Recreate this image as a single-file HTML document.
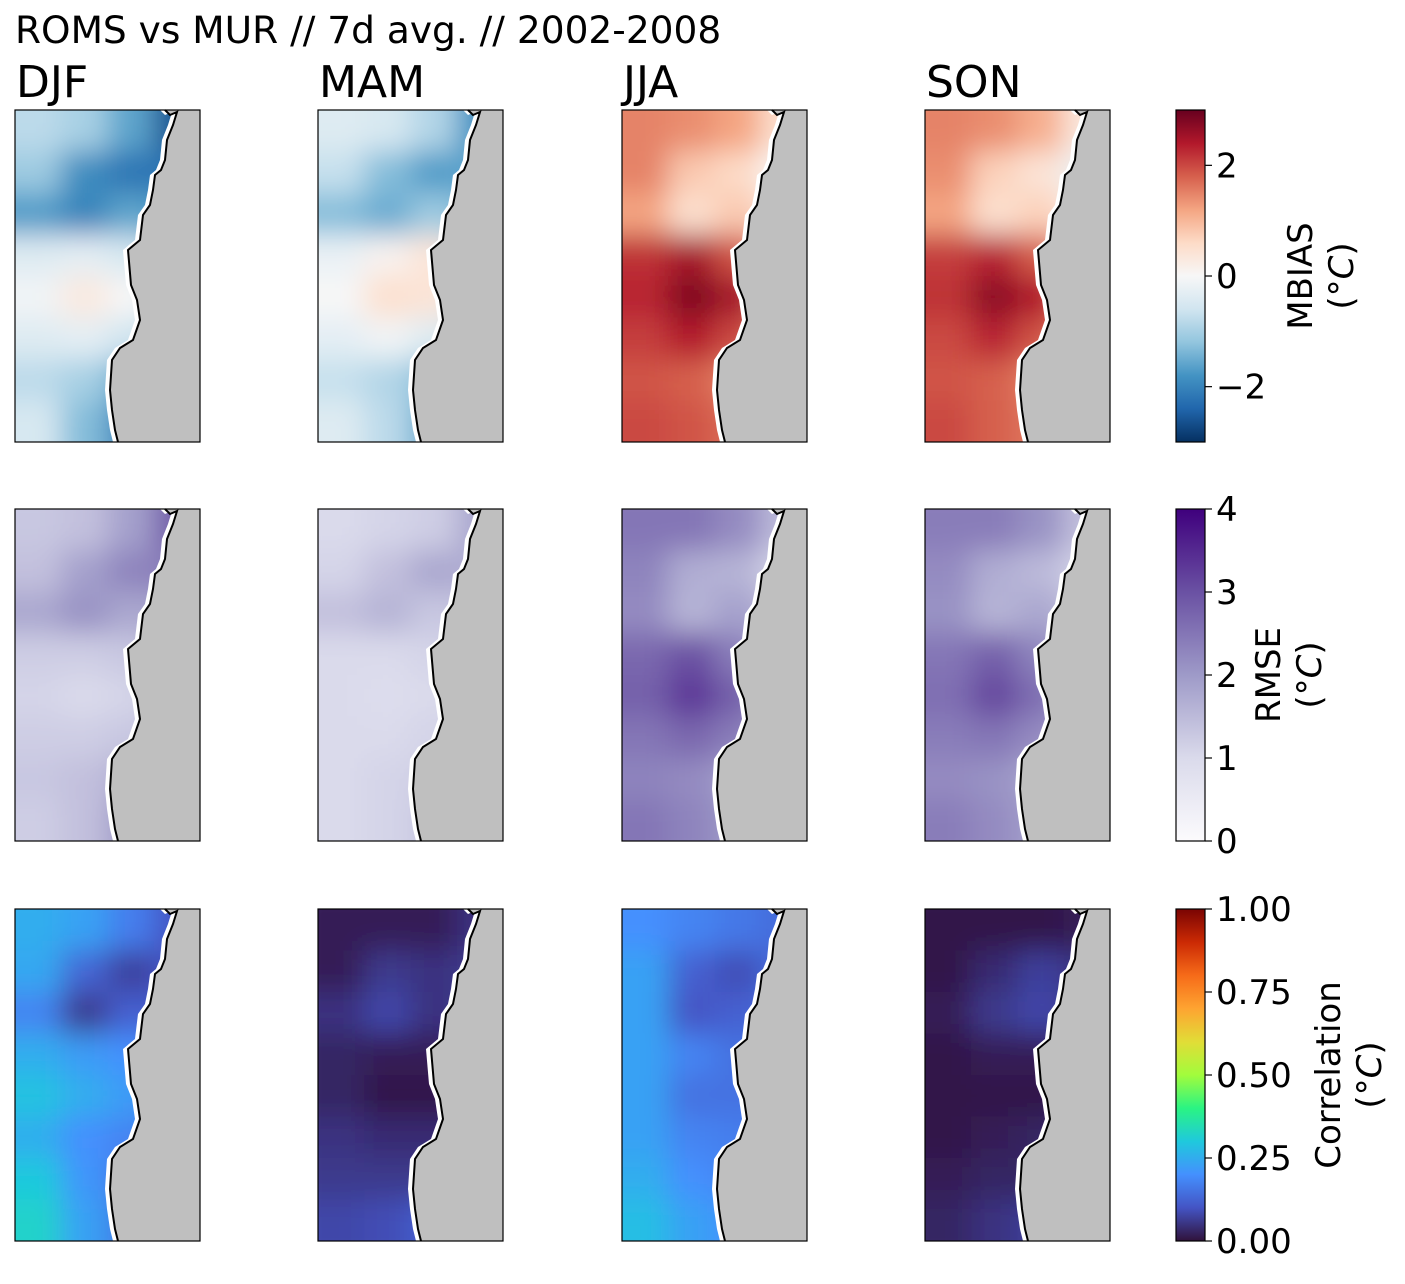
<!DOCTYPE html>
<html><head><meta charset="utf-8"><style>
body{margin:0;background:#fff;}
svg text{font-family:"DejaVu Sans","Liberation Sans",sans-serif;fill:#000;}
</style></head><body>
<svg id="fig" width="1405" height="1279" viewBox="0 0 1405 1279" xmlns="http://www.w3.org/2000/svg">
<defs>
<filter id="blur" x="-20%" y="-20%" width="140%" height="140%"><feGaussianBlur stdDeviation="14"/></filter>
</defs>
<text x="15" y="43" font-size="37.5">ROMS vs MUR // 7d avg. // 2002-2008</text>
<g id="panels"></g>
<g id="cbars"></g>
</svg>
<script>
const seasons=["DJF","MAM","JJA","SON"];
const metrics=["MBIAS","RMSE","Correlation"];
// 4 cols x 8 rows grid per panel (row-major)
const biasDJF=[-0.8,-1.0,-1.6,-2.6, -1.1,-1.9,-2.2,-2.2, -1.7,-2.0,-1.6,-1.8, -0.4,-0.3,-0.5,-1.3, -0.1,0.3,0.0,-0.7, -0.4,-0.3,-0.6,-1.2, -0.8,-1.0,-1.5,-1.8, -0.5,-1.3,-2.0,-2.3];
const biasMAM=[-0.4,-0.5,-0.9,-1.8, -0.7,-1.3,-1.7,-1.6, -1.3,-1.5,-1.1,-1.4, -0.2,0.1,0.4,-0.8, 0.0,0.5,0.4,-0.4, -0.3,-0.1,-0.4,-1.0, -0.7,-0.9,-1.3,-1.6, -0.4,-0.8,-1.5,-1.9];
const biasJJA=[1.5,1.4,1.2,0.5, 1.5,0.8,0.6,0.0, 1.2,0.5,0.8,0.3, 2.2,2.5,1.9,1.0, 2.3,2.8,2.5,1.4, 2.1,2.4,2.0,1.2, 1.9,1.8,1.5,1.0, 2.0,1.9,1.7,1.2];
const biasSON=[1.5,1.4,1.1,0.3, 1.4,0.7,0.4,-0.2, 1.2,0.5,0.7,0.1, 2.1,2.3,1.8,0.8, 2.2,2.7,2.4,1.2, 2.0,2.3,1.9,1.1, 1.9,1.8,1.5,0.9, 2.0,1.8,1.6,1.0];
const rmseDJF=[1.3,1.4,1.9,2.8, 1.4,1.9,2.3,2.4, 1.8,2.1,1.8,1.9, 1.2,1.2,1.3,1.8, 1.1,1.0,1.1,1.6, 1.2,1.2,1.3,1.7, 1.3,1.4,1.7,1.9, 1.2,1.4,2.0,2.3];
const rmseMAM=[1.0,1.1,1.2,1.8, 1.1,1.4,1.8,1.7, 1.4,1.6,1.3,1.4, 1.0,1.0,1.1,1.3, 1.0,0.9,1.0,1.1, 1.0,1.0,1.1,1.2, 1.0,1.1,1.2,1.3, 1.0,1.1,1.3,1.6];
const rmseJJA=[2.5,2.5,2.2,1.5, 2.3,1.7,1.6,1.1, 2.2,1.6,1.9,1.4, 2.7,3.0,2.4,1.6, 2.8,3.3,2.8,1.8, 2.5,2.7,2.4,1.5, 2.3,2.2,1.9,1.4, 2.5,2.3,2.0,1.5];
const rmseSON=[2.4,2.4,2.1,1.4, 2.2,1.7,1.5,1.1, 2.1,1.6,1.8,1.3, 2.5,2.8,2.3,1.5, 2.6,3.1,2.6,1.6, 2.4,2.5,2.2,1.4, 2.2,2.1,1.8,1.3, 2.4,2.2,1.9,1.4];
const corrDJF=[0.25,0.23,0.17,0.1, 0.24,0.13,0.07,0.1, 0.18,0.06,0.12,0.1, 0.25,0.22,0.2,0.16, 0.29,0.25,0.22,0.15, 0.25,0.2,0.18,0.14, 0.3,0.21,0.16,0.12, 0.32,0.23,0.16,0.12];
const corrMAM=[0.02,0.02,0.02,0.05, 0.02,0.06,0.05,0.06, 0.05,0.08,0.05,0.06, 0.03,0.02,0.02,0.05, 0.03,0.01,0.01,0.04, 0.05,0.04,0.04,0.06, 0.06,0.06,0.06,0.08, 0.08,0.09,0.12,0.15];
const corrJJA=[0.2,0.18,0.16,0.14, 0.23,0.12,0.09,0.14, 0.23,0.1,0.12,0.14, 0.23,0.18,0.15,0.16, 0.23,0.15,0.15,0.16, 0.23,0.18,0.17,0.16, 0.25,0.2,0.18,0.18, 0.28,0.23,0.2,0.2];
const corrSON=[0.01,0.01,0.01,0.02, 0.01,0.04,0.07,0.05, 0.02,0.06,0.08,0.05, 0.01,0.02,0.02,0.05, 0.01,0.01,0.01,0.03, 0.01,0.02,0.03,0.06, 0.02,0.03,0.03,0.07, 0.03,0.05,0.07,0.12];
const grids=[[biasDJF,biasMAM,biasJJA,biasSON],[rmseDJF,rmseMAM,rmseJJA,rmseSON],[corrDJF,corrMAM,corrJJA,corrSON]];
const ranges=[[-3,3],[0,4],[0,1]];
const ticks=[[-2,0,2],[0,1,2,3,4],[0,0.25,0.5,0.75,1]];
const tickLabels=[["\u22122","0","2"],["0","1","2","3","4"],["0.00","0.25","0.50","0.75","1.00"]];

const cmaps=[
 [[0,"#053061"],[0.1,"#2166ac"],[0.2,"#4393c3"],[0.3,"#92c5de"],[0.4,"#d1e5f0"],[0.5,"#f7f7f7"],[0.6,"#fddbc7"],[0.7,"#f4a582"],[0.8,"#d6604d"],[0.9,"#b2182b"],[1,"#67001f"]],
 [[0,"#fcfbfd"],[0.25,"#dadaeb"],[0.5,"#9e9ac8"],[0.75,"#6a51a3"],[1,"#3f007d"]],
 [[0,"#30123b"],[0.1,"#4454c4"],[0.2,"#4490fe"],[0.3,"#1fc9dd"],[0.4,"#2af483"],[0.5,"#a2fc3c"],[0.6,"#e1dd37"],[0.7,"#fea431"],[0.8,"#f66b19"],[0.9,"#cb2a04"],[1,"#7a0403"]]];
function hex(h){return[parseInt(h.substr(1,2),16),parseInt(h.substr(3,2),16),parseInt(h.substr(5,2),16)];}
function cm(m,t){t=Math.max(0,Math.min(1,t));const s=cmaps[m];for(let i=1;i<s.length;i++){if(t<=s[i][0]){const a=s[i-1],b=s[i],f=(t-a[0])/(b[0]-a[0]);const A=hex(a[1]),B=hex(b[1]);return`rgb(${A.map((v,k)=>Math.round(v+(B[k]-v)*f)).join(",")})`;}}return s[s.length-1][1];}

const NS="http://www.w3.org/2000/svg";
function el(tag,attrs,parent){const e=document.createElementNS(NS,tag);for(const k in attrs)e.setAttribute(k,attrs[k]);parent.appendChild(e);return e;}
const PX=[15,318,622,925],PY=[110,509,909],PW=185,PH=332;
const coast=[[150,0],[155,5],[162,2],[158,15],[152,30],[150,50],[146,60],[140,65],[138,80],[135,95],[128,105],[125,130],[113,140],[116,175],[122,190],[125,210],[118,230],[105,238],[97,250],[95,280],[97,300],[100,320],[103,332]];
const defs=document.querySelector("defs");
const cp=el("clipPath",{id:"ocean"},defs);
el("path",{d:"M0,0 "+coast.map(p=>"L"+(p[0]-5)+","+p[1]).join(" ")+" L0,332Z"},cp);
const landD="M"+coast.map(p=>p[0]+","+p[1]).join(" L")+" L185,332 L185,0Z";
const coastD="M"+coast.map(p=>p[0]+","+p[1]).join(" L");
const panels=document.getElementById("panels");
seasons.forEach((s,c)=>{
 const t=el("text",{x:PX[c]+1,y:97,"font-size":44},panels);t.textContent=s;
 
 
});
for(let r=0;r<3;r++)for(let c=0;c<4;c++){
 const g=el("g",{transform:`translate(${PX[c]},${PY[r]})`},panels);
 
 
 el("rect",{x:0,y:0,width:PW,height:PH,fill:"#fff"},g);
 const hm=el("g",{"clip-path":"url(#ocean)"},g);
 const inner=el("g",{filter:"url(#blur)"},hm);
 const data=grids[r][c],[lo,hi]=ranges[r];
 const cw=PW/4,rh=PH/8;
 for(let i=0;i<8;i++)for(let j=0;j<4;j++){
  const v=data[i*4+j];
  const cell=el("rect",{x:j*cw-(j==0?30:0),y:i*rh-(i==0?30:0),width:cw+1+(j==0?30:0)+(j==3?30:0),height:rh+1+(i==0?30:0)+(i==7?30:0),fill:cm(r,(v-lo)/(hi-lo))},inner);
  
  
 }
 const land=el("path",{d:landD,fill:"#bfbfbf"},g);
 
 
 el("path",{d:coastD,fill:"none",stroke:"#000","stroke-width":2},g);
 el("rect",{x:0,y:0,width:PW,height:PH,fill:"none",stroke:"#000","stroke-width":1.2},g);
}
const cb=document.getElementById("cbars");
const CX=1176,CW=29;
const LX=[[1312,1353],[1280,1321],[1340,1381]];
for(let r=0;r<3;r++){
 const g=el("g",{},cb);
 
 
 const gid="cg"+r;const lg=el("linearGradient",{id:gid,x1:0,y1:1,x2:0,y2:0},defs);
 cmaps[r].forEach(s=>el("stop",{offset:s[0],"stop-color":s[1]},lg));
 el("rect",{x:CX,y:PY[r],width:CW,height:PH,fill:`url(#${gid})`,stroke:"#000","stroke-width":1.2},g);
 const [lo,hi]=ranges[r];
 ticks[r].forEach((v,k)=>{const y=PY[r]+PH-(v-lo)/(hi-lo)*PH;
  el("line",{x1:CX+CW,x2:CX+CW+7,y1:y,y2:y,stroke:"#000","stroke-width":1.2},g);
  const t=el("text",{x:CX+CW+11,y:y+12,"font-size":34},g);t.textContent=tickLabels[r][k];
  
  
 });
 const cy=PY[r]+PH/2;
 const l1=el("text",{transform:`translate(${LX[r][0]},${cy}) rotate(-90)`,"text-anchor":"middle","font-size":34},g);l1.textContent=metrics[r];
 
 
 const l2=el("text",{transform:`translate(${LX[r][1]},${cy}) rotate(-90)`,"text-anchor":"middle","font-size":34},g);l2.innerHTML='(°<tspan font-style="italic">C</tspan>)';
 
 
}
</script>
</body></html>
